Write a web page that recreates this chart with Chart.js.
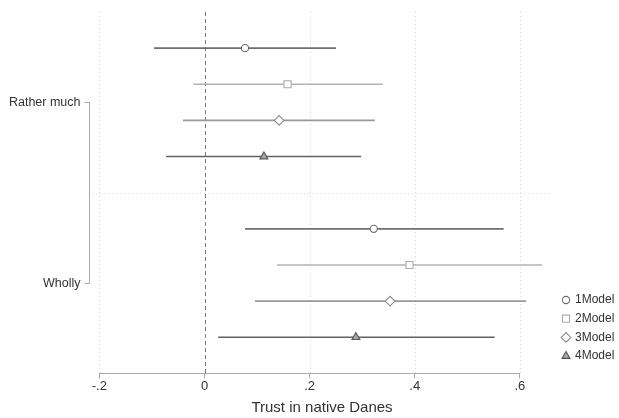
<!DOCTYPE html>
<html>
<head>
<meta charset="utf-8">
<script src="https://cdn.jsdelivr.net/npm/chart.js@4"></script>
<style>
html,body{margin:0;padding:0;background:#fff;}
#wrap{width:619px;height:418px;}
</style>
</head>
<body>
<div id="wrap"><canvas id="c" width="619" height="418"></canvas></div>
<script>
// ---- data ----
const groups = ["Rather much", "Wholly"];
const models = ["1Model", "2Model", "3Model", "4Model"];
const est = [
  [0.077, 0.158, 0.142, 0.113],   // Rather much
  [0.322, 0.390, 0.353, 0.288]    // Wholly
];
const lower = [
  [-0.096, -0.021, -0.041, -0.073],
  [0.077, 0.138, 0.096, 0.026]
];
const upper = [
  [0.250, 0.339, 0.324, 0.298],
  [0.569, 0.642, 0.612, 0.552]
];
const xTicks = [-0.2, 0, 0.2, 0.4, 0.6];
const xTickLabels = ["-.2", "0", ".2", ".4", ".6"];

// styles
const lineColors = ["#6f6f6f", "#b2b2b2", "#999999", "#626262"];
const markerStyles = ["circle", "rect", "rectRot", "triangle"];
const markerRadius = [3.6, 5.0, 4.8, 4.6];
const markerFill = ["#ffffff", "#ffffff", "#ffffff", "#a8a8a8"];
const markerStroke = ["#6a6a6a", "#aaaaaa", "#8e8e8e", "#555555"];

// row positions: group g, model m -> y
function rowY(g, m) { return g * 5 + m + 1; }

const datasets = [];
// CI lines
for (let g = 0; g < groups.length; g++) {
  for (let m = 0; m < models.length; m++) {
    datasets.push({
      type: 'line',
      label: 'ci',
      data: [{x: lower[g][m], y: rowY(g, m)}, {x: upper[g][m], y: rowY(g, m)}],
      borderColor: lineColors[m],
      borderWidth: 1.6,
      pointRadius: 0,
      fill: false,
      order: 2
    });
  }
}
// point estimates
for (let m = 0; m < models.length; m++) {
  datasets.push({
    type: 'scatter',
    label: models[m],
    data: groups.map((_, g) => ({x: est[g][m], y: rowY(g, m)})),
    pointStyle: markerStyles[m],
    pointRadius: markerRadius[m],
    pointBackgroundColor: markerFill[m],
    pointBorderColor: markerStroke[m],
    pointBorderWidth: 1.1,
    order: 1
  });
}

const decor = {
  id: 'decor',
  beforeDatasetsDraw(chart) {
    const {ctx, chartArea: a, scales: {x, y}} = chart;
    ctx.save();
    // vertical dotted grid
    ctx.strokeStyle = '#d8d8d8';
    ctx.lineWidth = 1;
    ctx.setLineDash([1, 3]);
    xTicks.forEach(v => {
      if (v === 0) return;
      const px = Math.round(x.getPixelForValue(v)) + 0.5;
      ctx.beginPath(); ctx.moveTo(px, a.top); ctx.lineTo(px, a.bottom); ctx.stroke();
    });
    // horizontal separator
    const sy = Math.round(y.getPixelForValue(5)) + 0.5;
    ctx.beginPath(); ctx.moveTo(a.left, sy); ctx.lineTo(a.right, sy); ctx.stroke();
    // zero line dashed
    ctx.strokeStyle = '#7a7a7a';
    ctx.setLineDash([4, 3]);
    const zx = Math.round(x.getPixelForValue(0)) + 0.5;
    ctx.beginPath(); ctx.moveTo(zx, a.top); ctx.lineTo(zx, a.bottom); ctx.stroke();
    ctx.restore();
  },
  afterDraw(chart) {
    const {ctx, chartArea: a, scales: {x, y}} = chart;
    ctx.save();
    // x axis line spanning ticks
    ctx.strokeStyle = '#aaaaaa';
    ctx.lineWidth = 1;
    const ay = Math.round(a.bottom) + 0.5;
    ctx.beginPath();
    ctx.moveTo(x.getPixelForValue(xTicks[0]), ay);
    ctx.lineTo(x.getPixelForValue(xTicks[xTicks.length - 1]), ay);
    ctx.stroke();
    // group labels and bracket
    const y1 = y.getPixelForValue(2.5), y2 = y.getPixelForValue(7.5);
    const bx = a.left - 2.5;
    ctx.strokeStyle = '#aaaaaa';
    ctx.beginPath();
    ctx.moveTo(bx - 5, Math.round(y1) + 0.5); ctx.lineTo(bx, Math.round(y1) + 0.5);
    ctx.lineTo(bx, Math.round(y2) + 0.5); ctx.lineTo(bx - 5, Math.round(y2) + 0.5);
    ctx.stroke();
    ctx.fillStyle = '#333333';
    ctx.font = '12.5px "Liberation Sans", Arial, sans-serif';
    ctx.textAlign = 'right';
    ctx.textBaseline = 'middle';
    ctx.fillText(groups[0], bx - 9, y1);
    ctx.fillText(groups[1], bx - 9, y2);
    // legend
    const lx = 566, ly0 = 300, lstep = 18.7;
    ctx.textAlign = 'left';
    ctx.font = '12px "Liberation Sans", Arial, sans-serif';
    models.forEach((name, m) => {
      const cy = ly0 + m * lstep;
      ctx.save();
      ctx.fillStyle = markerFill[m];
      ctx.strokeStyle = markerStroke[m];
      ctx.lineWidth = 1.1;
      Chart.helpers.drawPoint(ctx, {
        pointStyle: markerStyles[m],
        radius: markerRadius[m],
        borderWidth: 1.1
      }, lx, cy);
      ctx.restore();
      ctx.fillStyle = '#333333';
      ctx.fillText(name, lx + 9, cy);
    });
    ctx.restore();
  }
};

new Chart(document.getElementById('c'), {
  type: 'scatter',
  data: {datasets},
  options: {
    responsive: false,
    animation: false,
    layout: {padding: {left: 92, right: 67, top: 12, bottom: 1}},
    plugins: {legend: {display: false}, tooltip: {enabled: false}},
    scales: {
      x: {
        type: 'linear',
        min: -0.214,
        max: 0.661,
        afterBuildTicks(s) { s.ticks = xTicks.map(v => ({value: v})); },
        ticks: {
          callback: (v) => { const i = xTicks.findIndex(t => Math.abs(t - v) < 1e-9); return i >= 0 ? xTickLabels[i] : ''; },
          color: '#333333',
          font: {family: '"Liberation Sans", Arial, sans-serif', size: 13},
          padding: 0,
          maxRotation: 0,
          autoSkip: false
        },
        grid: {drawOnChartArea: false, drawTicks: true, tickLength: 5, color: '#aaaaaa'},
        border: {display: false},
        title: {
          display: true,
          text: 'Trust in native Danes',
          color: '#333333',
          font: {family: '"Liberation Sans", Arial, sans-serif', size: 15},
          padding: {top: 5, bottom: 0}
        }
      },
      y: {
        type: 'linear',
        min: 0,
        max: 10,
        reverse: true,
        display: false
      }
    }
  },
  plugins: [decor]
});
</script>
</body>
</html>
